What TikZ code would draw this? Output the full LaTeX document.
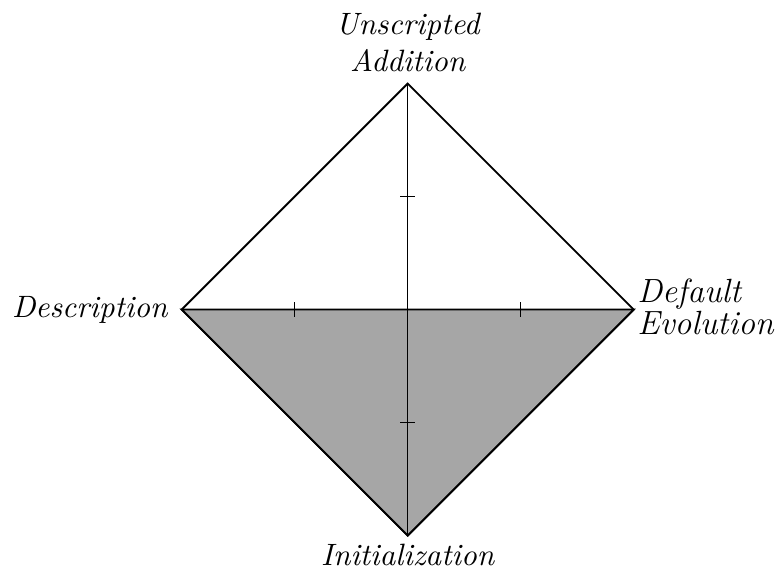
\documentclass[tikz,border=0pt]{standalone}
\usetikzlibrary{positioning}
\begin{document}
\begin{tikzpicture}[
  frame/.style={draw=black,semithick},
  area/.style={fill=black!35,draw=black,semithick},
  axisline/.style={draw=black,thin},
  tick/.style={draw=black,thin},
  lbl/.style={font=\fontsize{10.3}{12.4}\selectfont\itshape,inner sep=2pt},
  biglbl/.style={font=\fontsize{11.2}{10.6}\selectfont\itshape,inner sep=2pt}]

\useasboundingbox (-4.78,-3.04) rectangle (4.33,3.63);

% ---- corners of the diamond
\coordinate (ctr) at (0,0);
\coordinate (top) at (0,2.65);
\coordinate (rgt) at (2.65,0);
\coordinate (bot) at (0,-2.65);
\coordinate (lft) at (-2.65,0);

% ---- data area
\path[area] (lft) -- (ctr) -- (rgt) -- (bot) -- cycle;

% ---- axes and ticks
\path[axisline] (lft) -- (rgt);
\path[axisline] (top) -- (bot);
\foreach \x in {-1.325,1.325}
  \path[tick] (\x,-0.085) -- (\x,0.085);
\foreach \y in {-1.325,1.325}
  \path[tick] (-0.085,\y) -- (0.085,\y);

% ---- outline
\path[frame] (top) -- (rgt) -- (bot) -- (lft) -- cycle;

% ---- labels
\node[lbl,anchor=south,align=center,yshift=1.6pt] (lua) at (top) {Unscripted\\Addition};
\node[lbl,anchor=east,xshift=-2.5pt] (lde) at (lft) {Description};
\node[biglbl,anchor=west,align=left,xshift=-1pt,yshift=1pt] (ldf) at (rgt) {Default\\Evolution};
\node[lbl,anchor=north,yshift=-0.7pt] (lin) at (bot) {Initialization};
\end{tikzpicture}
\end{document}
